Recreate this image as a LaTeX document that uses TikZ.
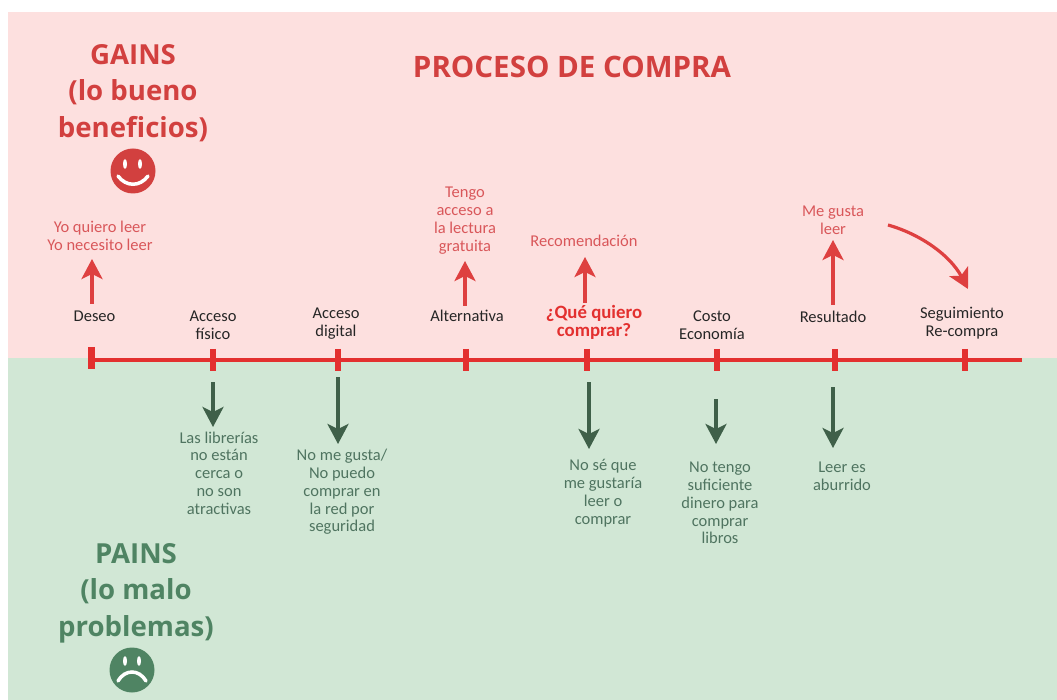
\documentclass[tikz,border=0pt]{standalone}
\usepackage{fontspec}
\setmainfont{Carlito}
\newfontfamily\headfont{Open Sans}
\usetikzlibrary{arrows.meta}
\definecolor{pinkbg}{HTML}{FDE0DF}
\definecolor{greenbg}{HTML}{D1E7D5}
\definecolor{axisred}{HTML}{E3302F}
\definecolor{softred}{HTML}{D9575A}
\definecolor{headred}{HTML}{D2403F}
\definecolor{darkgreen}{HTML}{3F6049}
\definecolor{paintext}{HTML}{4F7460}
\definecolor{headgreen}{HTML}{4F8463}
\definecolor{arrowred}{HTML}{DE4040}
\tikzset{
  x=1pt,y=-1pt,
  lbl/.style={align=center,inner sep=0pt,font=\fontsize{16.5}{17.8}\selectfont},
  blk/.style={lbl,text=black!85},
  gain/.style={lbl,text=softred},
  pain/.style={lbl,text=paintext},
  headr/.style={align=center,inner sep=0pt,text=headred,font=\headfont\bfseries\fontsize{27.6}{36.5}\selectfont},
  headg/.style={align=center,inner sep=0pt,text=headgreen,font=\headfont\bfseries\fontsize{27.6}{36.5}\selectfont},
  tickm/.style={draw=axisred,line width=5.5pt},
  up/.style={draw=arrowred,line width=3.2pt,-{Stealth[length=20pt,width=21pt,inset=5pt]}},
  down/.style={draw=darkgreen,line width=3.2pt,-{Stealth[length=20pt,width=21pt,inset=5pt]}},
}
\newcommand{\tickat}[2]{\coordinate (t#1) at (#2,360); \draw[tickm] (#2,349) -- (#2,371);}
\begin{document}
\begin{tikzpicture}
\useasboundingbox (0,0) rectangle (1057,700);
\fill[white] (0,0) rectangle (1057,700);
\fill[pinkbg] (8,12) rectangle (1057,358);
\fill[greenbg] (8,358) rectangle (1057,700);

% headings
\node[headr] (title) at (572,67) {\fontsize{29.5}{36}\selectfont PROCESO DE COMPRA};
\node[headr] (gains) at (133,93) {GAINS\\(lo bueno\\beneficios)};
\node[headg] (pains) at (136,593) {PAINS\\(lo malo\\problemas)};

% faces
\node[circle,fill=headred,minimum size=45pt,inner sep=0pt] (smile) at (133,171) {};
\fill[white] (125,164) ellipse (2pt and 5pt);
\fill[white] (140,164) ellipse (2pt and 5pt);
\draw[white,line width=3.5pt,line cap=round] (118,176) .. controls (126,187) and (140,187) .. (148,176);
\node[circle,fill=headgreen,minimum size=45pt,inner sep=0pt] (frown) at (132,670) {};
\fill[white] (125,661) ellipse (2pt and 5pt);
\fill[white] (139,661) ellipse (2pt and 5pt);
\draw[white,line width=3.5pt,line cap=round] (118,681) .. controls (125,669) and (139,669) .. (146,681);

% axis
\coordinate (axs) at (88,360);
\coordinate (axe) at (1022,360);
\draw[axisred,line width=4pt] (axs) -- (axe);
\coordinate (ta) at (91,358);
\draw[axisred,line width=7pt] (91,347) -- (91,369);
\tickat{b}{213}\tickat{c}{338}\tickat{d}{466}\tickat{e}{587}\tickat{f}{717}\tickat{g}{835}\tickat{h}{965}

% stage labels
\node[blk] (deseo) at (94.5,316) {Deseo};
\node[blk] (fisico) at (213,325) {Acceso\\físico};
\node[blk] (digital) at (336,324) {Acceso\\digital};
\node[blk] (alt) at (467,316) {Alternativa};
\node[lbl,text=axisred,font=\bfseries\fontsize{18.8}{18}\selectfont] (que) at (594,322) {¿Qué quiero\\comprar?};
\node[blk] (costo) at (712,325) {Costo\\Economía};
\node[blk] (res) at (833,317) {Resultado};
\node[blk] (seg) at (962,323) {Seguimiento\\Re-compra};

% gains
\node[gain] (yo) at (100,235.5) {Yo quiero leer\\Yo necesito leer};
\node[gain] (tengo) at (465,220.5) {Tengo\\acceso a\\la lectura\\gratuita};
\node[gain] (rec) at (584,241) {Recomendación};
\node[gain] (gusta) at (833,220) {Me gusta\\leer};

% pains
\node[pain] (lib) at (219,473) {Las librerías\\no están\\cerca o\\no son\\atractivas};
\node[pain] (nome) at (342,492) {No me gusta/\\No puedo\\comprar en\\la red por\\seguridad};
\node[pain] (nose) at (603,493) {No sé que\\me gustaría\\leer o\\comprar};
\node[pain] (din) at (720,503) {No tengo\\suficiente\\dinero para\\comprar\\libros};
\node[pain] (abu) at (842,476) {Leer es\\aburrido};

% up arrows
\coordinate (u1a) at (92,304);  \coordinate (u1b) at (92,259);
\coordinate (u2a) at (465,306); \coordinate (u2b) at (465,261);
\coordinate (u3a) at (585,303); \coordinate (u3b) at (585,257);
\coordinate (u4a) at (833,305); \coordinate (u4b) at (833,240);
\draw[up] (u1a) -- (u1b);
\draw[up] (u2a) -- (u2b);
\draw[up] (u3a) -- (u3b);
\draw[up] (u4a) -- (u4b);
\coordinate (c1) at (888,225); \coordinate (c2) at (968,289);
\draw[up] (c1) .. controls (920,234) and (950,255) .. (c2);

% down arrows
\coordinate (d1a) at (213,382); \coordinate (d1b) at (213,427);
\coordinate (d2a) at (338,377); \coordinate (d2b) at (338,444);
\coordinate (d3a) at (589,382); \coordinate (d3b) at (589,449);
\coordinate (d4a) at (716,399); \coordinate (d4b) at (716,444);
\coordinate (d5a) at (833,387); \coordinate (d5b) at (833,448);
\draw[down] (d1a) -- (d1b);
\draw[down] (d2a) -- (d2b);
\draw[down] (d3a) -- (d3b);
\draw[down] (d4a) -- (d4b);
\draw[down] (d5a) -- (d5b);
\end{tikzpicture}
\end{document}
